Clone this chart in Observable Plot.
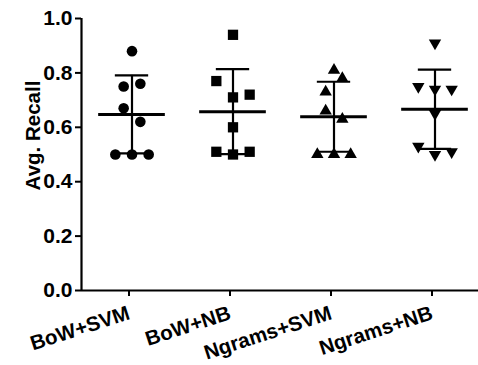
<!DOCTYPE html>
<html>
<head>
<meta charset="utf-8">
<script src="https://cdn.jsdelivr.net/npm/d3@7"></script>
<script src="https://cdn.jsdelivr.net/npm/@observablehq/plot@0.6"></script>
<style>
  html, body { margin: 0; padding: 0; background: #fff; }
  svg text { font-family: 'Liberation Sans', Arial, sans-serif !important; font-weight: bold !important; font-size: 20.5px !important; }
  svg g[aria-label="y-axis tick label"] text { font-size: 21px !important; }
</style>
</head>
<body>
<div id="chart"></div>
<script>
// ---- data ----
const categories = ["BoW+SVM", "BoW+NB", "Ngrams+SVM", "Ngrams+NB"];
const bowSvm    = [0.88, 0.76, 0.75, 0.67, 0.62, 0.50, 0.50, 0.50];
const bowNb     = [0.94, 0.77, 0.72, 0.71, 0.60, 0.51, 0.50, 0.51];
const ngramsSvm = [0.81, 0.78, 0.73, 0.66, 0.63, 0.50, 0.50, 0.50];
const ngramsNb  = [0.91, 0.75, 0.74, 0.74, 0.65, 0.53, 0.50, 0.51];
// horizontal scatter lane of each point (lane units, as arranged in the plot)
const bowSvmLane    = [0, 1, -1, -1, 1, -2, 0, 2];
const bowNbLane     = [0, -2, 2, 0, 0, -2, 0, 2];
const ngramsSvmLane = [0, 1, -1, -1, 1, -2, 0, 2];
const ngramsNbLane  = [0, -2, 0, 2, 0, -2, 0, 2];
const yTicks = [0, 0.2, 0.4, 0.6, 0.8, 1.0];
const yLabel = "Avg. Recall";

// ---- build table ----
const values = [bowSvm, bowNb, ngramsSvm, ngramsNb];
const lanes = [bowSvmLane, bowNbLane, ngramsSvmLane, ngramsNbLane];
const points = categories.flatMap((c, i) =>
  values[i].map((v, j) => ({cat: c, value: v, lane: lanes[i][j]})));
const stats = categories.map((c, i) => {
  const m = d3.mean(values[i]);
  const s = d3.deviation(values[i]);
  return {cat: c, mean: m, lo: m - s, hi: m + s};
});

// inverted triangle symbol
const triangleDown = {
  draw(context, size) {
    const s3 = Math.sqrt(3);
    const y = -Math.sqrt(size / (s3 * 3));
    context.moveTo(0, -y * 2);
    context.lineTo(-s3 * y, y);
    context.lineTo(s3 * y, y);
    context.closePath();
  }
};
const symbols = ["circle", "square", "triangle", triangleDown];
const radii = [5.3, 5.8, 4.6, 4.6];

const xDomain = [-6.06, 6.06];
const capHalf = 2, meanHalf = 4;

const marks = [
  Plot.ruleY([0], {strokeWidth: 2.2}),
  Plot.ruleX([categories[0]], {fx: d => d, x: () => xDomain[0], y1: 0, y2: 1, strokeWidth: 2.2}),
  Plot.axisY({ticks: yTicks, tickFormat: d3.format(".1f"), tickSize: 6, tickPadding: 3,
    strokeWidth: 2, fontSize: 21, label: null}),
  Plot.text([yLabel], {fx: () => categories[0], frameAnchor: "left", dx: -48, dy: -19, rotate: -90,
    textAnchor: "middle"}),
  Plot.axisFx({anchor: "bottom", tickSize: 6, tickPadding: 16, tickRotate: -18, dx: -3,
    strokeWidth: 2, label: null}),
  // error bars
  Plot.ruleX(stats, {fx: "cat", x: () => 0, y1: "lo", y2: "hi", strokeWidth: 2.2}),
  Plot.ruleY(stats, {fx: "cat", y: "hi", x1: () => -capHalf, x2: () => capHalf, strokeWidth: 2.2}),
  Plot.ruleY(stats, {fx: "cat", y: "lo", x1: () => -capHalf, x2: () => capHalf, strokeWidth: 2.2}),
  Plot.ruleY(stats, {fx: "cat", y: "mean", x1: () => -meanHalf, x2: () => meanHalf, strokeWidth: 3})
];
categories.forEach((c, i) => {
  marks.push(Plot.dot(points.filter(d => d.cat === c),
    {fx: "cat", x: "lane", y: "value", symbol: symbols[i], r: radii[i], fill: "black", stroke: "none"}));
});

const chart = Plot.plot({
  width: 478,
  height: 365,
  marginLeft: 81,
  marginRight: -7,
  marginTop: 18,
  marginBottom: 75,
  style: {fontFamily: "'Liberation Sans', Arial, sans-serif", fontSize: "20.5px", fontWeight: "bold", background: "#fff", color: "#000"},
  fx: {domain: categories, padding: 0},
  x: {domain: xDomain, axis: null},
  y: {domain: [0, 1]},
  marks
});
document.getElementById("chart").appendChild(chart);
</script>
</body>
</html>
